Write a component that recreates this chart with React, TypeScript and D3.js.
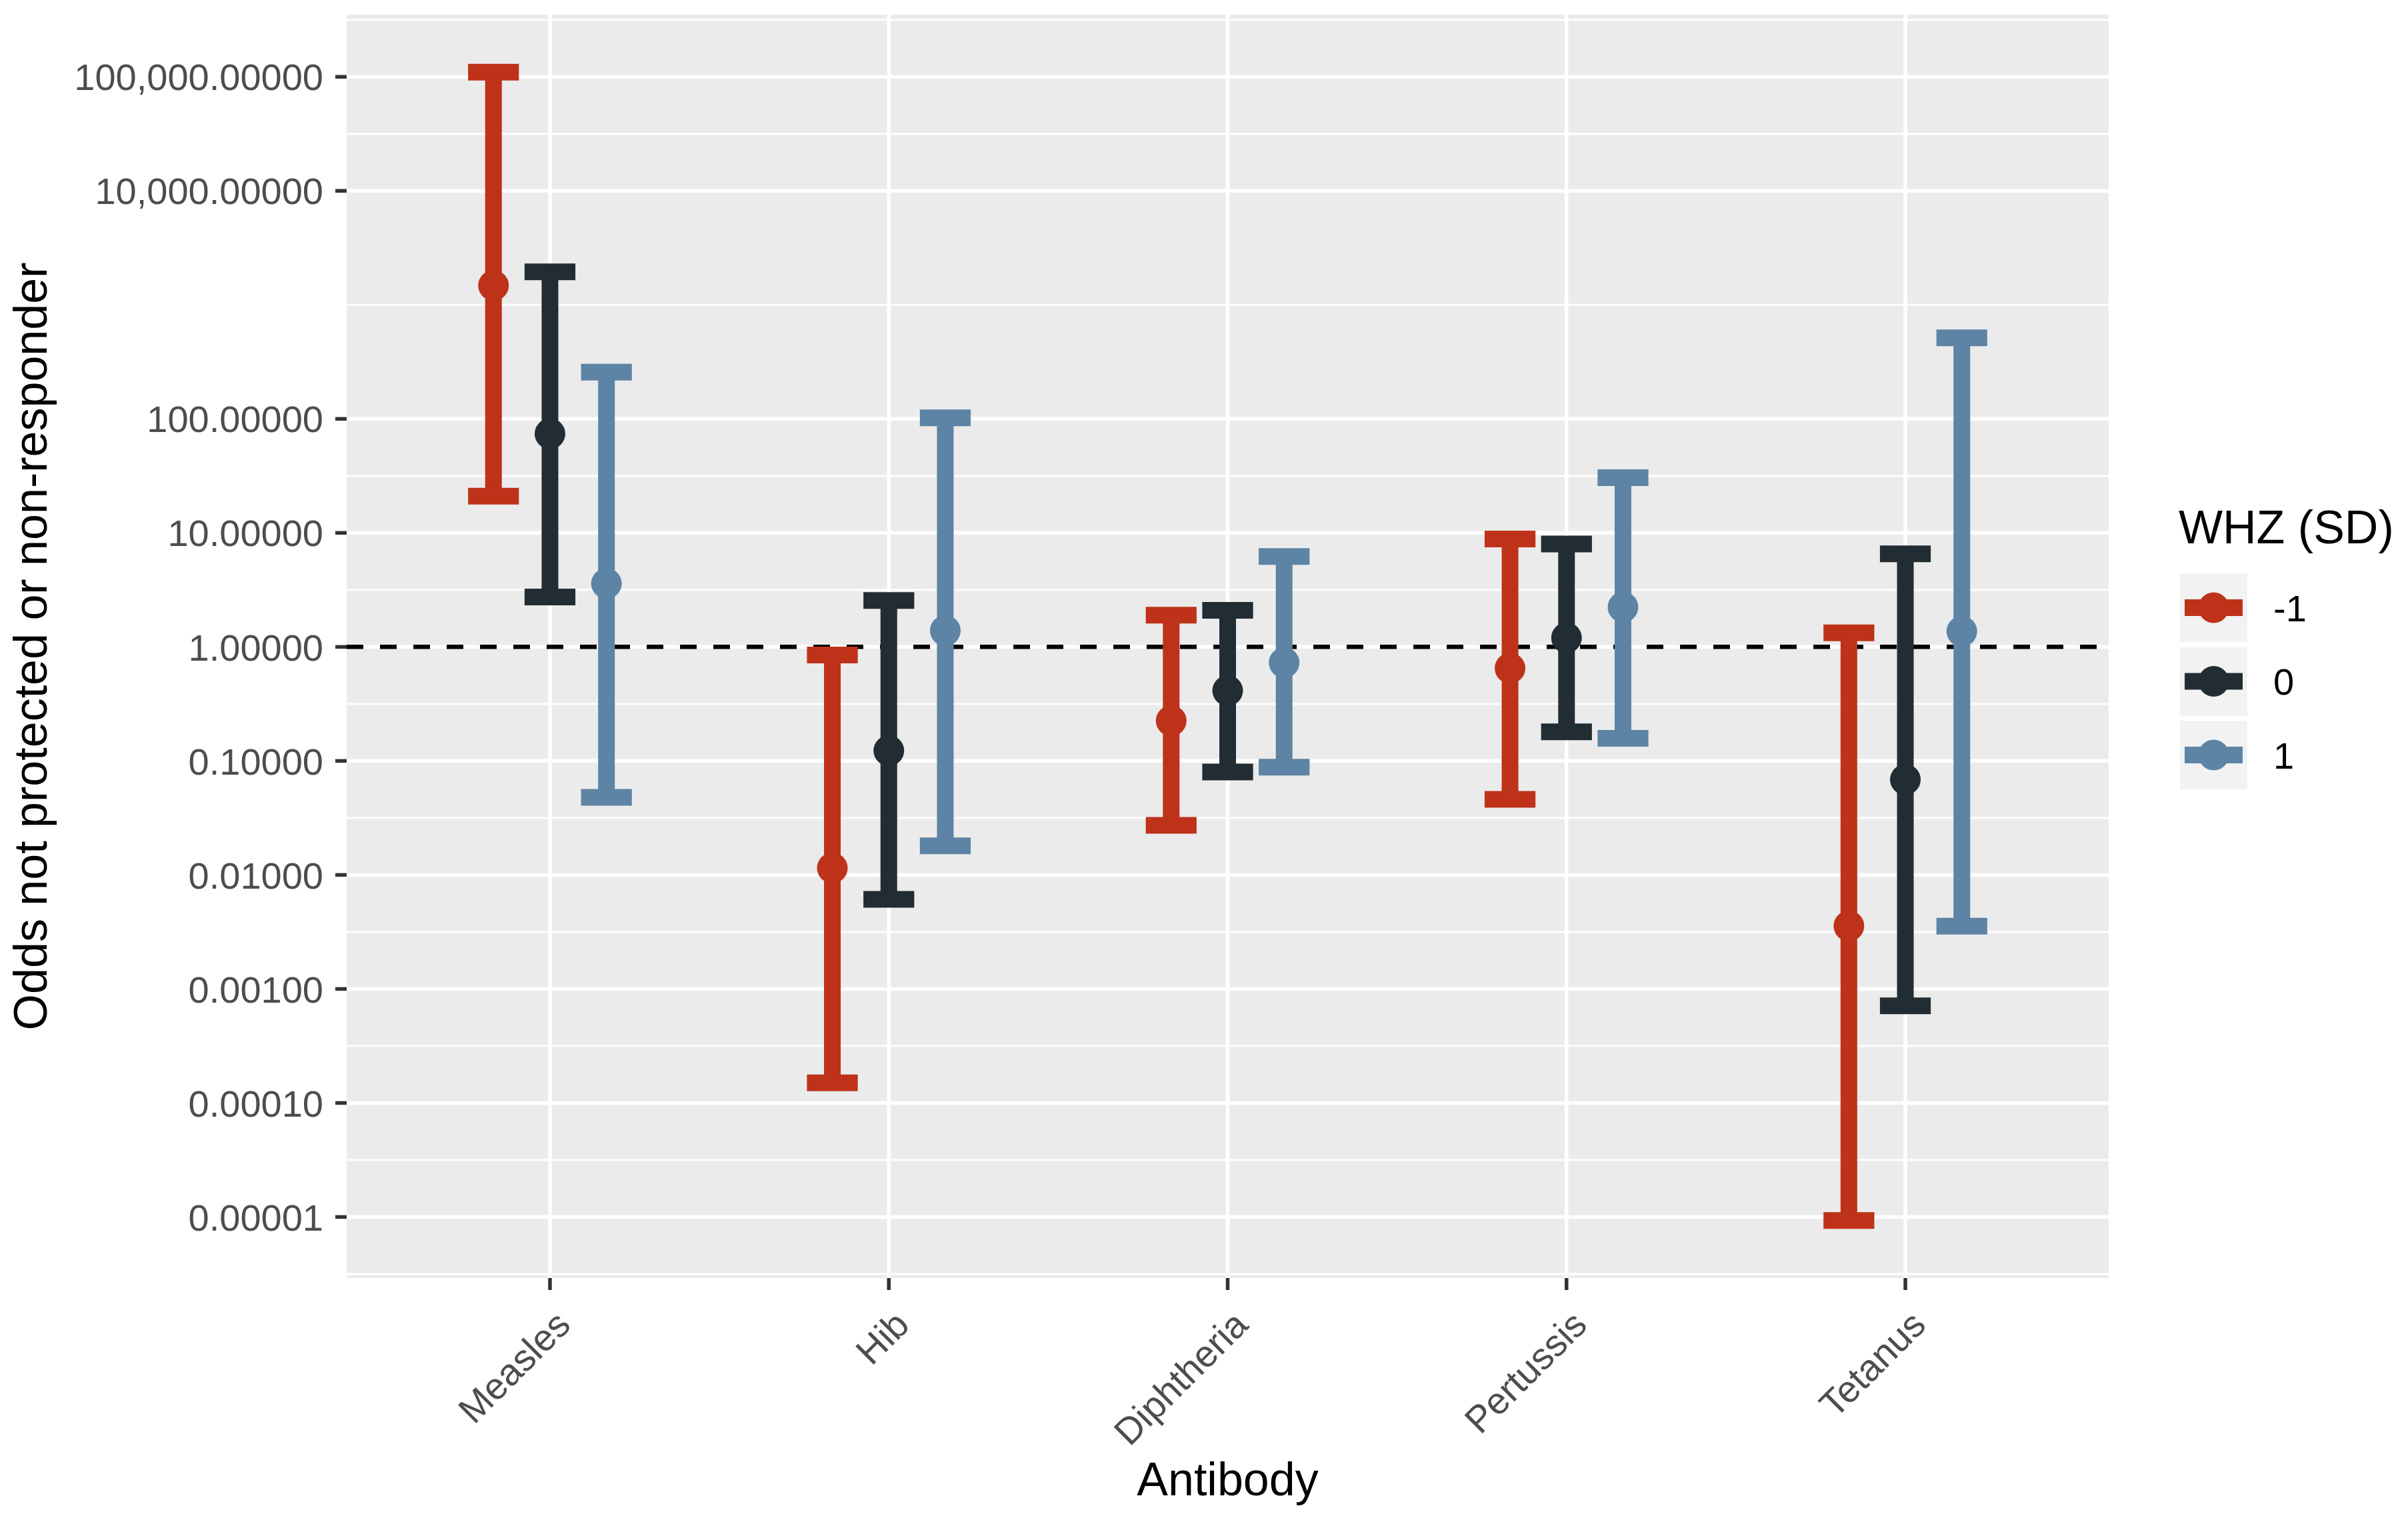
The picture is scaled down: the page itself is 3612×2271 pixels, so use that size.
import React from 'react';
import * as d3 from 'd3';

// categories and groups
const antibodies = ['Measles', 'Hib', 'Diphtheria', 'Pertussis', 'Tetanus'];
const whzLevels = ['-1', '0', '1'];
const whzColors = ['#BE3219', '#212D32', '#5D84A4'];

// odds ratio estimates per WHZ level (one value per antibody)
const estMinus1 = [1480, 0.0115, 0.225, 0.65, 0.00357];
const est0 = [74, 0.123, 0.413, 1.2, 0.0686];
const est1 = [3.6, 1.39, 0.728, 2.23, 1.37];

// lower confidence limits
const lowMinus1 = [21, 0.00015, 0.0272, 0.046, 0.0000093];
const low0 = [2.74, 0.0061, 0.08, 0.18, 0.00071];
const low1 = [0.048, 0.018, 0.088, 0.158, 0.00355];

// upper confidence limits
const highMinus1 = [110000, 0.85, 1.9, 8.85, 1.33];
const high0 = [1950, 2.55, 2.09, 8.0, 6.56];
const high1 = [257, 102, 6.2, 30.5, 513];

// y axis breaks
const yBreaks = [0.00001, 0.0001, 0.001, 0.01, 0.1, 1, 10, 100, 10000, 100000];

const estimates = [estMinus1, est0, est1];
const lows = [lowMinus1, low0, low1];
const highs = [highMinus1, high0, high1];

const W = 3612;
const H = 2271;
const panel = { left: 520, right: 3163, top: 22, bottom: 1917 };
const font = 'Liberation Sans, Arial, Helvetica, sans-serif';

export default function App() {
  const x = d3.scalePoint<string>().domain(antibodies).range([panel.left, panel.right]).padding(0.6);
  const step = x.step();
  const dodge = (i: number) => (i - 1) * (step * 0.5) / 3;
  const capHalf = (step * 0.15) / 2;

  const lo = Math.log10(d3.min(lows.flat()) as number);
  const hi = Math.log10(d3.max(highs.flat()) as number);
  const pad = (hi - lo) * 0.05;
  const y = d3.scaleLog().domain([10 ** (lo - pad), 10 ** (hi + pad)]).range([panel.bottom, panel.top]);

  // minor breaks: midpoints between majors (log space), extended one step at the ends
  const lb = yBreaks.map(Math.log10);
  const bd = lb[1] - lb[0];
  const ext = [lb[0] - bd, ...lb, lb[lb.length - 1] + bd];
  const minors = d3.pairs(ext).map(([a, b]) => (a + b) / 2).filter((v) => v > lo - pad && v < hi + pad);

  const fmt = d3.format(',.5f');
  const lineW = 25;
  const ptR = 23;

  const legendX = 3270;
  const keySize = 103;
  const keyGap = 7.5;
  const keyTop = 860;

  return (
    <svg width={W} height={H} style={{ position: 'absolute', left: 0, top: 0, background: '#fff' }} fontFamily={font}>
      <rect x={panel.left} y={panel.top} width={panel.right - panel.left} height={panel.bottom - panel.top} fill="#EBEBEB" />

      {minors.map((v) => (
        <line key={'mn' + v} x1={panel.left} x2={panel.right} y1={y(10 ** v)} y2={y(10 ** v)} stroke="#fff" strokeWidth={2.8} />
      ))}
      {yBreaks.map((b) => (
        <line key={'mj' + b} x1={panel.left} x2={panel.right} y1={y(b)} y2={y(b)} stroke="#fff" strokeWidth={5.5} />
      ))}
      {antibodies.map((a) => (
        <line key={'vx' + a} x1={x(a)} x2={x(a)} y1={panel.top} y2={panel.bottom} stroke="#fff" strokeWidth={5.5} />
      ))}

      <line x1={panel.left} x2={panel.right} y1={y(1)} y2={y(1)} stroke="#000" strokeWidth={6.5} strokeDasharray="25 25" />

      {whzLevels.map((g, gi) =>
        antibodies.map((a, ai) => {
          const cx = (x(a) as number) + dodge(gi);
          const yl = y(lows[gi][ai]);
          const yh = y(highs[gi][ai]);
          return (
            <g key={g + a} stroke={whzColors[gi]} strokeWidth={lineW}>
              <line x1={cx - capHalf} x2={cx + capHalf} y1={yh} y2={yh} />
              <line x1={cx} x2={cx} y1={yh} y2={yl} />
              <line x1={cx - capHalf} x2={cx + capHalf} y1={yl} y2={yl} />
            </g>
          );
        })
      )}
      {whzLevels.map((g, gi) =>
        antibodies.map((a, ai) => (
          <circle key={'p' + g + a} cx={(x(a) as number) + dodge(gi)} cy={y(estimates[gi][ai])} r={ptR} fill={whzColors[gi]} />
        ))
      )}

      {/* y axis */}
      {yBreaks.map((b) => (
        <g key={'yt' + b}>
          <line x1={panel.left - 17} x2={panel.left} y1={y(b)} y2={y(b)} stroke="#333" strokeWidth={5.5} />
          <text x={485} y={y(b)} dy="0.36em" textAnchor="end" fontSize={56} fill="#4D4D4D">
            {fmt(b)}
          </text>
        </g>
      ))}

      {/* x axis */}
      {antibodies.map((a) => (
        <g key={'xt' + a}>
          <line x1={x(a)} x2={x(a)} y1={panel.bottom} y2={panel.bottom + 18} stroke="#333" strokeWidth={5.5} />
          <text
            transform={`translate(${(x(a) as number) + 5},1962) rotate(-45)`}
            dy="0.72em"
            textAnchor="end"
            fontSize={56}
            fill="#4D4D4D"
          >
            {a}
          </text>
        </g>
      ))}

      <text x={(panel.left + panel.right) / 2} y={2243} textAnchor="middle" fontSize={70} fill="#000">
        Antibody
      </text>
      <text
        transform={`translate(70,${(panel.top + panel.bottom) / 2}) rotate(-90)`}
        textAnchor="middle"
        fontSize={70}
        fill="#000"
      >
        Odds not protected or non-responder
      </text>

      {/* legend */}
      <text x={3268} y={815} fontSize={70} fill="#000">
        WHZ (SD)
      </text>
      {whzLevels.map((g, gi) => {
        const ky = keyTop + gi * (keySize + keyGap);
        const cy = ky + keySize / 2;
        return (
          <g key={'lg' + g}>
            <rect x={legendX} y={ky} width={101} height={keySize} fill="#F2F2F2" />
            <line x1={legendX + 7} x2={legendX + 94} y1={cy} y2={cy} stroke={whzColors[gi]} strokeWidth={lineW} />
            <circle cx={legendX + 50.5} cy={cy} r={ptR} fill={whzColors[gi]} />
            <text x={3410} y={cy} dy="0.36em" fontSize={56} fill="#000">
              {g}
            </text>
          </g>
        );
      })}
    </svg>
  );
}
